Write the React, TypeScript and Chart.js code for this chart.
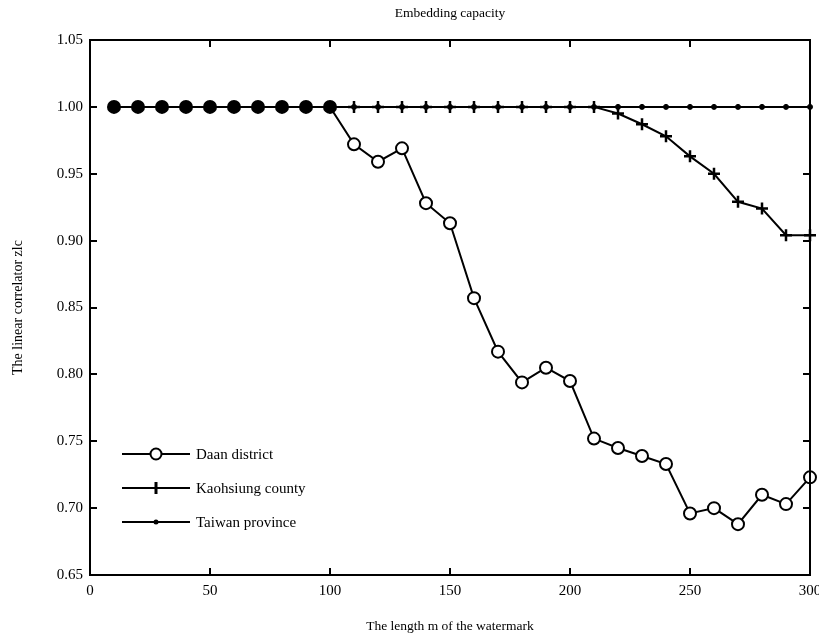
import React, { useEffect, useRef } from "react";
import { Chart, registerables } from "chart.js";

Chart.register(...registerables);

const xValues = [10, 20, 30, 40, 50, 60, 70, 80, 90, 100, 110, 120, 130, 140, 150, 160, 170, 180, 190, 200, 210, 220, 230, 240, 250, 260, 270, 280, 290, 300];
const daan = [1, 1, 1, 1, 1, 1, 1, 1, 1, 1, 0.972, 0.959, 0.969, 0.928, 0.913, 0.857, 0.817, 0.794, 0.805, 0.795, 0.752, 0.745, 0.739, 0.733, 0.696, 0.700, 0.688, 0.710, 0.703, 0.723];
const kaohsiung = [1, 1, 1, 1, 1, 1, 1, 1, 1, 1, 1, 1, 1, 1, 1, 1, 1, 1, 1, 1, 1, 0.995, 0.987, 0.978, 0.963, 0.950, 0.929, 0.924, 0.904, 0.904];
const taiwan = [1, 1, 1, 1, 1, 1, 1, 1, 1, 1, 1, 1, 1, 1, 1, 1, 1, 1, 1, 1, 1, 1, 1, 1, 1, 1, 1, 1, 1, 1];
const seriesNames = ["Daan district", "Kaohsiung county", "Taiwan province"];
const chartTitle = "Embedding capacity";
const xTitle = "The length m of the watermark";
const yTitle = "The linear correlator zlc";

const FONT = "'Liberation Serif', 'Times New Roman', serif";

const toPts = (ys: number[]) => xValues.map((x, i) => ({ x, y: ys[i] }));

const framePlugin = {
  id: "frame",
  afterDraw(chart: any) {
    const { ctx, chartArea: a, scales } = chart;
    const x = scales.x;
    const y = scales.y;
    ctx.save();
    ctx.strokeStyle = "#000";
    ctx.lineWidth = 2;
    ctx.strokeRect(a.left, a.top, a.right - a.left, a.bottom - a.top);
    const tl = 7;
    ctx.beginPath();
    x.ticks.forEach((t: any) => {
      const px = Math.round(x.getPixelForValue(t.value));
      if (px <= a.left + 1 || px >= a.right - 1) return;
      ctx.moveTo(px, a.bottom);
      ctx.lineTo(px, a.bottom - tl);
      ctx.moveTo(px, a.top);
      ctx.lineTo(px, a.top + tl);
    });
    y.ticks.forEach((t: any) => {
      const py = Math.round(y.getPixelForValue(t.value));
      if (py <= a.top + 1 || py >= a.bottom - 1) return;
      ctx.moveTo(a.left, py);
      ctx.lineTo(a.left + tl, py);
      ctx.moveTo(a.right, py);
      ctx.lineTo(a.right - tl, py);
    });
    ctx.stroke();

    // title
    ctx.fillStyle = "#000";
    ctx.font = `13.5px ${FONT}`;
    ctx.textAlign = "center";
    ctx.textBaseline = "middle";
    ctx.fillText(chartTitle, (a.left + a.right) / 2, 13);

    // legend
    const lx0 = a.left + 32;
    const lx1 = a.left + 100;
    const mx = (lx0 + lx1) / 2;
    const rows = [a.bottom - 121, a.bottom - 87, a.bottom - 53];
    ctx.font = `15px ${FONT}`;
    ctx.textAlign = "left";
    rows.forEach((ly, i) => {
      ctx.beginPath();
      ctx.lineWidth = 2;
      ctx.moveTo(lx0, ly);
      ctx.lineTo(lx1, ly);
      ctx.stroke();
      if (i === 0) {
        ctx.beginPath();
        ctx.fillStyle = "#fff";
        ctx.arc(mx, ly, 5.5, 0, Math.PI * 2);
        ctx.fill();
        ctx.stroke();
      } else if (i === 1) {
        ctx.beginPath();
        ctx.lineWidth = 3;
        ctx.moveTo(mx, ly - 6);
        ctx.lineTo(mx, ly + 6);
        ctx.stroke();
      } else {
        ctx.beginPath();
        ctx.fillStyle = "#000";
        ctx.arc(mx, ly, 2.5, 0, Math.PI * 2);
        ctx.fill();
      }
      ctx.fillStyle = "#000";
      ctx.fillText(seriesNames[i], lx1 + 6, ly + 1);
    });
    ctx.restore();
  },
};

export default function App() {
  const ref = useRef<HTMLCanvasElement | null>(null);
  useEffect(() => {
    if (!ref.current) return;
    const chart = new Chart(ref.current, {
      type: "line",
      data: {
        datasets: [
          {
            label: seriesNames[0],
            data: toPts(daan),
            borderColor: "#000",
            borderWidth: 2,
            pointStyle: "circle",
            pointRadius: 6,
            pointBorderWidth: 2,
            pointBorderColor: "#000",
            pointBackgroundColor: (c: any) => (c.parsed && c.parsed.x <= 100 ? "#000" : "#fff"),
            clip: false,
            order: 0,
          },
          {
            label: seriesNames[1],
            data: toPts(kaohsiung),
            borderColor: "#000",
            borderWidth: 2,
            pointStyle: "cross",
            pointRadius: 6,
            pointBorderWidth: 2.5,
            pointBorderColor: "#000",
            pointBackgroundColor: "#000",
            clip: false,
            order: 1,
          },
          {
            label: seriesNames[2],
            data: toPts(taiwan),
            borderColor: "#000",
            borderWidth: 2,
            pointStyle: "circle",
            pointRadius: 2.5,
            pointBorderWidth: 1,
            pointBorderColor: "#000",
            pointBackgroundColor: "#000",
            clip: false,
            order: 2,
          },
        ],
      },
      options: {
        responsive: false,
        animation: false,
        events: [],
        layout: { padding: { top: 40, right: 9, left: 0, bottom: 0 } },
        plugins: {
          legend: { display: false },
          title: { display: false },
          tooltip: { enabled: false },
        },
        scales: {
          x: {
            type: "linear",
            min: 0,
            max: 300,
            grid: { display: false, drawTicks: false },
            border: { display: false },
            ticks: {
              stepSize: 50,
              padding: 7,
              color: "#000",
              maxRotation: 0,
              font: { family: FONT, size: 15 },
            },
            title: {
              display: true,
              text: xTitle,
              color: "#000",
              padding: { top: 4, bottom: 4 },
              font: { family: FONT, size: 13.5 },
            },
            afterFit: (s: any) => {
              s.height = 64;
              s.paddingRight = 0;
              s.paddingLeft = 0;
            },
          },
          y: {
            type: "linear",
            min: 0.65,
            max: 1.05,
            grid: { display: false, drawTicks: false },
            border: { display: false },
            ticks: {
              stepSize: 0.05,
              padding: 7,
              color: "#000",
              font: { family: FONT, size: 15 },
              callback: (v: any) => Number(v).toFixed(2),
            },
            title: {
              display: true,
              text: yTitle,
              color: "#000",
              padding: { top: 10, bottom: 4 },
              font: { family: FONT, size: 14 },
            },
            afterFit: (s: any) => {
              s.width = 90;
              s.paddingTop = 0;
              s.paddingBottom = 0;
            },
          },
        },
      },
      plugins: [framePlugin],
    } as any);
    return () => chart.destroy();
  }, []);
  return (
    <div style={{ position: "fixed", left: 0, top: 0, width: 819, height: 639, background: "#fff" }}>
      <canvas ref={ref} width={819} height={639} style={{ display: "block" }} />
    </div>
  );
}
